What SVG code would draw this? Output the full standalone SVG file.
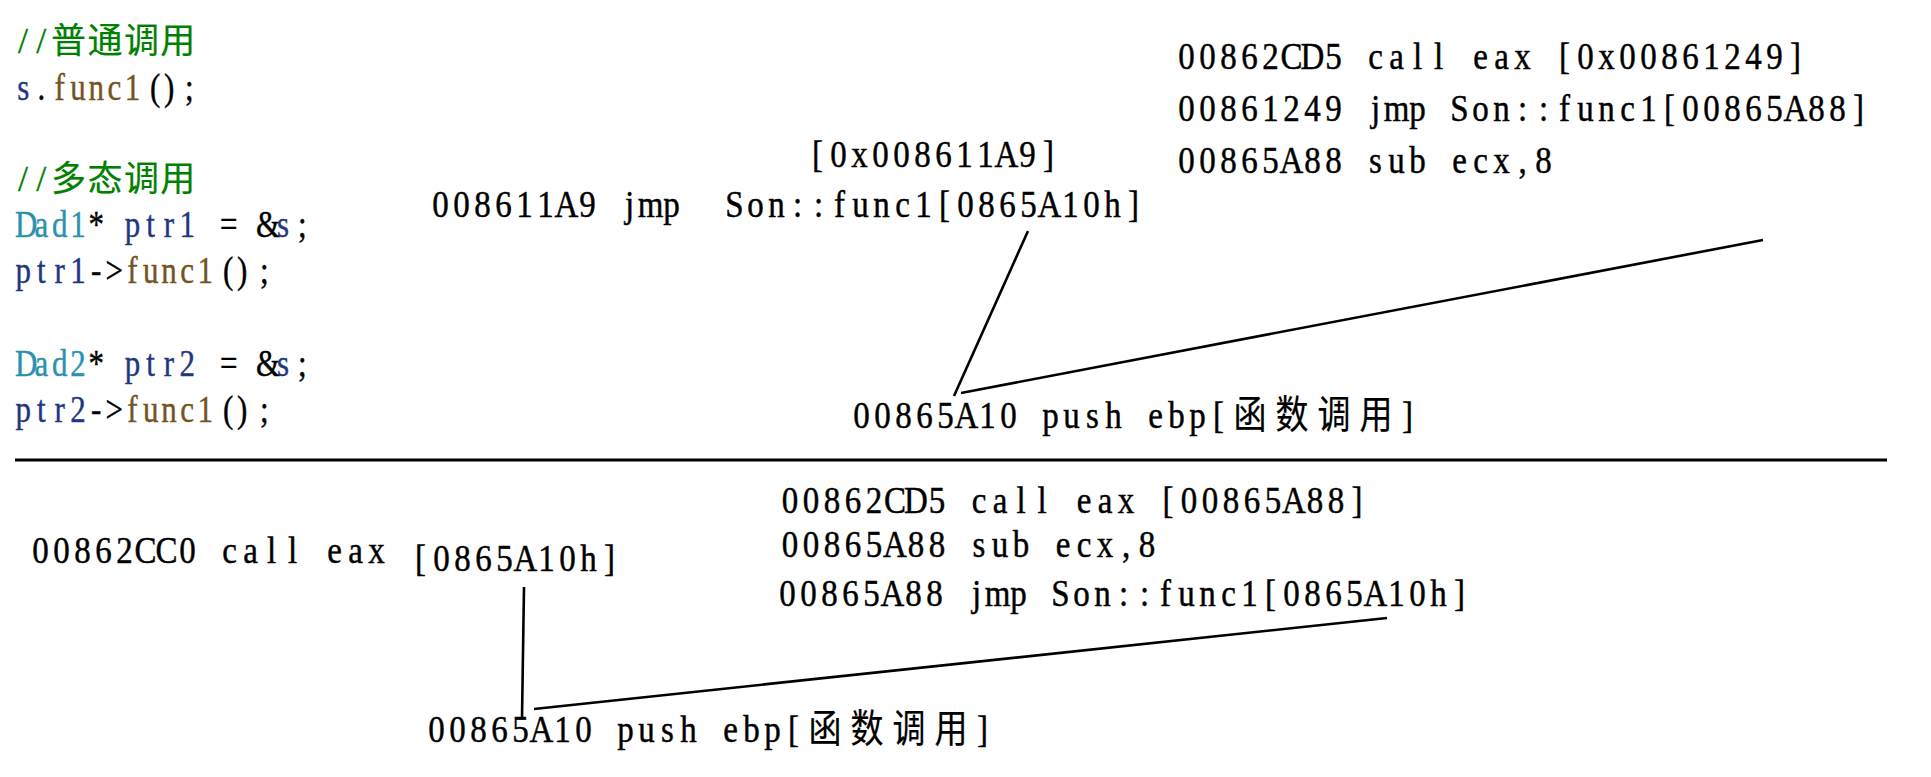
<svg xmlns="http://www.w3.org/2000/svg" width="1931" height="777" viewBox="0 0 1931 777">
<style>
text{white-space:pre}
.code{font-family:"Liberation Serif","Noto Sans CJK SC",serif;font-size:31px;fill:#000;stroke:#000;stroke-width:0.35}
.cmt{font-family:"Liberation Serif","Noto Sans CJK SC",serif;font-size:36px;fill:#008000;stroke:#008000;stroke-width:0.3}
.asm{font-family:"Liberation Serif","Noto Sans CJK SC",serif;font-size:33px;fill:#000;stroke:#000;stroke-width:0.4}
.cjk{font-family:"Noto Sans CJK SC",sans-serif;stroke-width:0.2}
.var{fill:#1F377F;stroke:#1F377F}
.fn{fill:#74531F;stroke:#74531F}
.cls{fill:#2B91AF;stroke:#2B91AF}
.ln{stroke:#000;stroke-width:2.6;fill:none}
.rule{stroke:#000;stroke-width:3.2}
</style>
<rect width="1931" height="777" fill="#fff"/>
<g id="source-code">
<text class="cmt" y="53"><tspan x="18.1 36.3">//</tspan><tspan class="cjk" font-size="35" x="51.1 87.5 123.9 160.3">普通调用</tspan></text>
<text class="code" transform="scale(1,1.2)" y="83.33"><tspan class="var" x="17.3">s</tspan><tspan x="37.6">.</tspan><tspan class="fn" x="54.5 70.2 88.4 107.4 124.8">func1</tspan><tspan x="150 164 185">();</tspan></text>
<text class="cmt" y="191"><tspan x="18.1 36.3">//</tspan><tspan class="cjk" font-size="35" x="51.1 87.5 123.9 160.3">多态调用</tspan></text>
<text class="code" transform="scale(1,1.2)" y="197.5"><tspan class="cls" x="15 34.6 52 70.2">Dad1</tspan><tspan x="88.4 105">* </tspan><tspan class="var" x="124.8 146.3 163.7 179.4">ptr1</tspan><tspan x="196 220 240 256"> = &amp;</tspan><tspan class="var" x="277">s</tspan><tspan x="298">;</tspan></text>
<text class="code" transform="scale(1,1.2)" y="235.83"><tspan class="var" x="15.6 37.1 54.5 70.2">ptr1</tspan><tspan x="90.9 105.6">-&gt;</tspan><tspan class="fn" x="127.3 143 161.2 180.2 197.6">func1</tspan><tspan x="223 237 260">();</tspan></text>
<text class="code" transform="scale(1,1.2)" y="313.33"><tspan class="cls" x="15 34.6 52 70.2">Dad2</tspan><tspan x="88.4 105">* </tspan><tspan class="var" x="124.8 146.3 163.7 179.4">ptr2</tspan><tspan x="196 220 240 256"> = &amp;</tspan><tspan class="var" x="277">s</tspan><tspan x="298">;</tspan></text>
<text class="code" transform="scale(1,1.2)" y="351.67"><tspan class="var" x="15.6 37.1 54.5 70.2">ptr2</tspan><tspan x="90.9 105.6">-&gt;</tspan><tspan class="fn" x="127.3 143 161.2 180.2 197.6">func1</tspan><tspan x="223 237 260">();</tspan></text>
</g>
<g id="top-thunk-addr"><text class="asm" transform="scale(1,1.18)" y="141.53" x="812 830.3 851.3 872.3 893.3 914.3 935.3 956.3 977.3 994.6 1019.3 1043">[0x008611A9]</text></g>
<g id="top-thunk"><text class="asm" transform="scale(1,1.18)" y="183.9" x="432.3 453.3 474.3 495.3 516.3 537.3 554.6 579.3 598 624.9 637.7 663.3 682 703 725.3 747.3 768.3 792.9 813.9 834 852.3 873.3 895.2 915.3 939 957.3 978.3 999.3 1020.3 1037.6 1062.3 1083.3 1104.3 1128">008611A9 jmp  Son::func1[0865A10h]</text></g>
<g id="top-right-block">
<text class="asm" transform="scale(1,1.18)" y="58.47" x="1178.3 1199.3 1220.3 1241.3 1262.3 1280.5 1300.6 1325.3 1344 1368.2 1389.2 1412.9 1433.9 1449 1473.2 1494.2 1514.3 1533 1559 1577.3 1598.3 1619.3 1640.3 1661.3 1682.3 1703.3 1724.3 1745.3 1766.3 1790">00862CD5 call eax [0x00861249]</text>
<text class="asm" transform="scale(1,1.18)" y="102.54" x="1178.3 1199.3 1220.3 1241.3 1262.3 1283.3 1304.3 1325.3 1344 1370.9 1383.7 1409.3 1428 1450.3 1472.3 1493.3 1517.9 1538.9 1559 1577.3 1598.3 1620.2 1640.3 1664 1682.3 1703.3 1724.3 1745.3 1766.3 1783.6 1808.3 1829.3 1853">00861249 jmp Son::func1[00865A88]</text>
<text class="asm" transform="scale(1,1.18)" y="146.61" x="1178.3 1199.3 1220.3 1241.3 1262.3 1279.6 1304.3 1325.3 1344 1369.1 1388.3 1409.3 1428 1452.2 1473.2 1493.3 1518.4 1535.3">00865A88 sub ecx,8</text>
</g>
<g id="top-target"><text class="asm" transform="scale(1,1.18)" y="362.71"><tspan x="853.3 874.3 895.3 916.3 937.3 954.6 979.3 1000.3 1019 1042.3 1063.3 1086.1 1105.3 1124 1148.2 1168.3 1189.3 1213">00865A10 push ebp[</tspan><tspan class="cjk" font-size="33" x="1233.5 1275.5 1317.5 1359.5">函数调用</tspan><tspan x="1402">]</tspan></text></g>
<g id="bottom-call">
<text class="asm" transform="scale(1,1.18)" y="477.12" x="32.3 53.3 74.3 95.3 116.3 134.5 155.5 179.3 198 222.2 243.2 266.9 287.9 303 327.2 348.2 368.3">00862CC0 call eax</text>
<text class="asm" transform="scale(1,1.18)" y="483.9" x="415 433.3 454.3 475.3 496.3 513.6 538.3 559.3 580.3 604">[0865A10h]</text>
</g>
<g id="bottom-right-block">
<text class="asm" transform="scale(1,1.18)" y="434.75" x="781.8 802.8 823.8 844.8 865.8 884 904.1 928.8 947.5 971.7 992.7 1016.4 1037.4 1052.5 1076.7 1097.7 1117.8 1136.5 1162.5 1180.8 1201.8 1222.8 1243.8 1264.8 1282.1 1306.8 1327.8 1351.5">00862CD5 call eax [00865A88]</text>
<text class="asm" transform="scale(1,1.18)" y="472.03" x="781.8 802.8 823.8 844.8 865.8 883.1 907.8 928.8 947.5 972.6 991.8 1012.8 1031.5 1055.7 1076.7 1096.8 1121.9 1138.8">00865A88 sub ecx,8</text>
<text class="asm" transform="scale(1,1.18)" y="513.56" x="779.3 800.3 821.3 842.3 863.3 880.6 905.3 926.3 945 971.9 984.7 1010.3 1029 1051.3 1073.3 1094.3 1118.9 1139.9 1160 1178.3 1199.3 1221.2 1241.3 1265 1283.3 1304.3 1325.3 1346.3 1363.6 1388.3 1409.3 1430.3 1454">00865A88 jmp Son::func1[0865A10h]</text>
</g>
<g id="bottom-target"><text class="asm" transform="scale(1,1.18)" y="628.81"><tspan x="428.3 449.3 470.3 491.3 512.3 529.6 554.3 575.3 594 617.3 638.3 661.1 680.3 699 723.2 743.3 764.3 788">00865A10 push ebp[</tspan><tspan class="cjk" font-size="33" x="808.5 850.5 892.5 934.5">函数调用</tspan><tspan x="977">]</tspan></text></g>
<g id="connectors">
<line class="rule" x1="15" y1="460" x2="1887" y2="460"/>
<line class="ln" x1="1028" y1="231" x2="954" y2="396"/>
<line class="ln" x1="1763" y1="240" x2="961" y2="393"/>
<line class="ln" x1="524" y1="587" x2="522" y2="718"/>
<line class="ln" x1="534" y1="709" x2="1387" y2="618"/>
</g>
</svg>
